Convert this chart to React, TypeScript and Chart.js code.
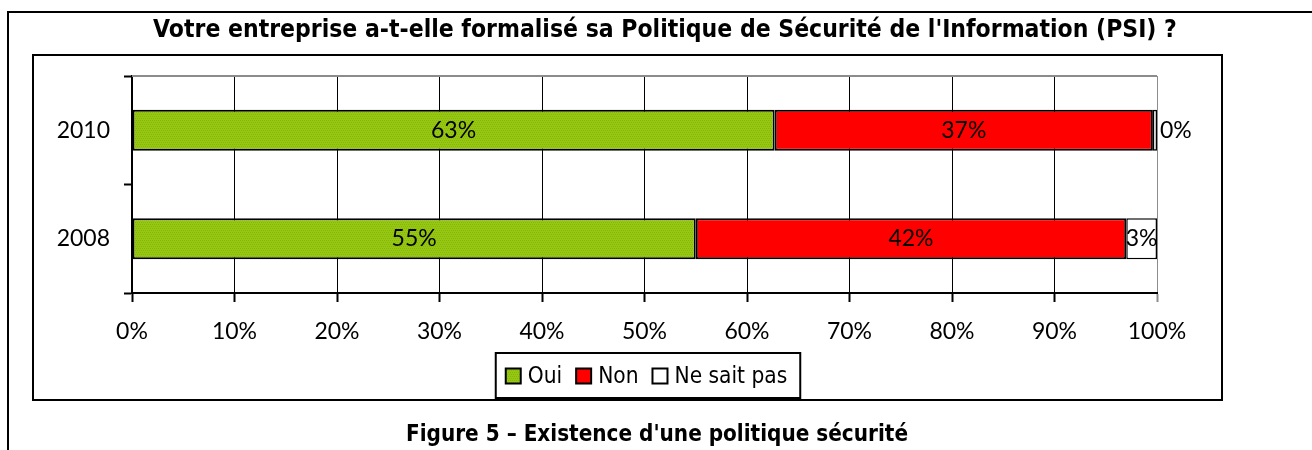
import React, { useEffect, useRef } from 'react';
import { Chart, registerables } from 'chart.js';

Chart.register(...registerables);

const TITLE = "Votre entreprise a-t-elle formalisé sa Politique de Sécurité de l'Information (PSI) ?";
const CAPTION = "Figure 5 – Existence d'une politique sécurité";
const categories = ['2010', '2008'];
const seriesNames = ['Oui', 'Non', 'Ne sait pas'];
const ouiValues = [62.7, 55.0];
const nonValues = [36.9, 42.0];
const nspValues = [0.4, 3.0];
const xMin = 0;
const xMax = 100;
const xStep = 10;

const AXIS_FONT = 'Lato, "Open Sans", sans-serif';
const HEAD_FONT = '"DejaVu Sans Condensed", "DejaVu Sans", sans-serif';

function makeGreenPattern(): CanvasPattern | string {
  const c = document.createElement('canvas');
  c.width = 4;
  c.height = 4;
  const g = c.getContext('2d');
  if (!g) return '#92c20f';
  g.fillStyle = '#98c80c';
  g.fillRect(0, 0, 4, 4);
  g.fillStyle = '#82b41e';
  g.fillRect(0, 0, 1, 1);
  g.fillRect(2, 0, 1, 1);
  g.fillRect(1, 2, 1, 1);
  g.fillRect(3, 2, 1, 1);
  return g.createPattern(c, 'repeat') || '#92c20f';
}

function fitFont(ctx: CanvasRenderingContext2D, text: string, weight: string, family: string, targetWidth: number) {
  ctx.font = `${weight} 100px ${family}`;
  const w = ctx.measureText(text).width;
  const size = (100 * targetWidth) / w;
  return `${weight} ${size.toFixed(2)}px ${family}`;
}

const decorPlugin = {
  id: 'decor',
  beforeDraw(chart: any) {
    const ctx = chart.ctx as CanvasRenderingContext2D;
    ctx.save();
    ctx.fillStyle = '#ffffff';
    ctx.fillRect(0, 0, chart.width, chart.height);
    ctx.strokeStyle = '#000';
    ctx.lineWidth = 2;
    // outer frame (left and top visible)
    ctx.beginPath();
    ctx.moveTo(8, chart.height + 5);
    ctx.lineTo(8, 12);
    ctx.lineTo(chart.width + 5, 12);
    ctx.stroke();
    // inner chart frame
    ctx.strokeRect(33, 55, 1222 - 33, 400 - 55);
    // title
    ctx.fillStyle = '#000';
    ctx.font = fitFont(ctx, TITLE, 'bold', HEAD_FONT, 1024);
    ctx.textAlign = 'center';
    ctx.textBaseline = 'alphabetic';
    ctx.fillText(TITLE, 665, 37);
    // caption
    ctx.font = fitFont(ctx, CAPTION, 'bold', HEAD_FONT, 502);
    ctx.fillText(CAPTION, 657, 441);
    ctx.restore();
  },
  afterDatasetsDraw(chart: any) {
    const ctx = chart.ctx as CanvasRenderingContext2D;
    ctx.save();
    ctx.font = `23px ${AXIS_FONT}`;
    ctx.fillStyle = '#000';
    ctx.textBaseline = 'middle';
    chart.data.datasets.forEach((ds: any, i: number) => {
      const meta = chart.getDatasetMeta(i);
      meta.data.forEach((bar: any, j: number) => {
        const v = ds.data[j];
        const txt = Math.round(v) + '%';
        const w = Math.abs(bar.x - bar.base);
        if (w < 10) {
          ctx.textAlign = 'left';
          ctx.fillText(txt, Math.max(bar.x, bar.base) + 3, bar.y);
        } else {
          ctx.textAlign = 'center';
          ctx.fillText(txt, (bar.x + bar.base) / 2, bar.y);
        }
      });
    });
    ctx.restore();
  },
  afterDraw(chart: any) {
    const ctx = chart.ctx as CanvasRenderingContext2D;
    const area = chart.chartArea;
    ctx.save();
    // grey top border of plot area
    ctx.strokeStyle = '#8c8c8c';
    ctx.lineWidth = 2;
    ctx.beginPath();
    ctx.moveTo(area.left, area.top);
    ctx.lineTo(area.right, area.top);
    ctx.stroke();

    // legend
    ctx.font = `22.5px ${HEAD_FONT}`;
    const sq = 15;
    const gapText = 7;
    const gapItem = 14;
    const padL = 10;
    const padR = 13;
    const widths = chart.data.datasets.map((ds: any) => ctx.measureText(ds.label).width);
    const itemsW = widths.reduce((a: number, w: number) => a + sq + gapText + w, 0) + gapItem * (widths.length - 1);
    const boxW = itemsW + padL + padR;
    const boxLeft = 648 - boxW / 2;
    const boxTop = 353;
    const boxH = 45;
    ctx.fillStyle = '#fff';
    ctx.fillRect(boxLeft, boxTop, boxW, boxH);
    ctx.strokeStyle = '#000';
    ctx.lineWidth = 2;
    ctx.strokeRect(boxLeft, boxTop, boxW, boxH);
    let x = boxLeft + padL;
    const cy = boxTop + 23;
    chart.data.datasets.forEach((ds: any, i: number) => {
      ctx.fillStyle = ds.backgroundColor;
      ctx.fillRect(x, cy - sq / 2, sq, sq);
      ctx.strokeStyle = '#000';
      ctx.lineWidth = 2;
      ctx.strokeRect(x, cy - sq / 2, sq, sq);
      x += sq + gapText;
      ctx.fillStyle = '#000';
      ctx.textAlign = 'left';
      ctx.textBaseline = 'middle';
      ctx.fillText(ds.label, x, cy + 1);
      x += widths[i] + gapItem;
    });
    ctx.restore();
  },
};

export default function App() {
  const canvasRef = useRef<HTMLCanvasElement | null>(null);

  useEffect(() => {
    const canvas = canvasRef.current;
    if (!canvas) return;
    const green = makeGreenPattern();
    const chart = new Chart(canvas, {
      type: 'bar',
      data: {
        labels: categories,
        datasets: [
          { label: seriesNames[0], data: ouiValues, backgroundColor: green as any, borderColor: '#000', borderWidth: 2, borderSkipped: false },
          { label: seriesNames[1], data: nonValues, backgroundColor: '#ff0000', borderColor: '#000', borderWidth: 2, borderSkipped: false },
          { label: seriesNames[2], data: nspValues, backgroundColor: '#ffffff', borderColor: '#000', borderWidth: 1.5, borderSkipped: false },
        ],
      },
      options: {
        indexAxis: 'y',
        responsive: false,
        animation: false,
        devicePixelRatio: 1,
        datasets: { bar: { categoryPercentage: 1, barPercentage: 0.38 } },
        layout: { padding: { top: 76, left: 40, right: 155, bottom: 87 } },
        plugins: {
          legend: { display: false },
          title: { display: false },
          tooltip: { enabled: false },
        },
        scales: {
          x: {
            stacked: true,
            min: xMin,
            max: xMax,
            ticks: {
              stepSize: xStep,
              color: '#000',
              padding: 16,
              font: { family: AXIS_FONT, size: 23 },
              callback: (v: any) => v + '%',
            },
            grid: {
              color: (c: any) => (c.tick && c.tick.value === xMax ? '#8c8c8c' : '#000'),
              lineWidth: 1,
              tickLength: 9,
              tickWidth: 2,
            },
            border: { display: true, color: '#000', width: 2 },
            afterFit: (s: any) => { s.height = 70; },
          },
          y: {
            stacked: true,
            ticks: {
              color: '#000',
              padding: 14,
              font: { family: AXIS_FONT, size: 23 },
            },
            grid: {
              offset: true,
              drawOnChartArea: false,
              drawTicks: true,
              tickLength: 8,
              color: '#000',
              tickWidth: 2,
            },
            border: { display: true, color: '#000', width: 2 },
            afterFit: (s: any) => { s.width = 92; },
          },
        },
      },
      plugins: [decorPlugin],
    });
    return () => chart.destroy();
  }, []);

  return (
    <div style={{ position: 'absolute', left: 0, top: 0, width: 1312, height: 450, background: '#fff' }}>
      <canvas ref={canvasRef} width={1312} height={450} style={{ display: 'block' }} />
    </div>
  );
}
